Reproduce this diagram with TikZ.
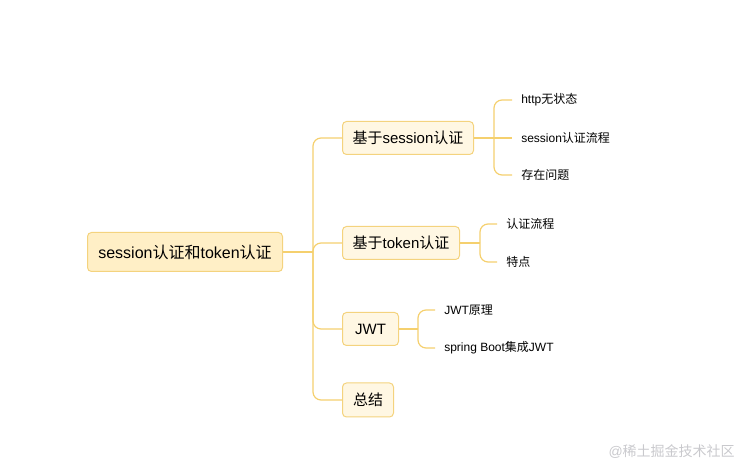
\documentclass[tikz,border=0pt]{standalone}
\usepackage{fontspec}
\setmainfont{Liberation Sans}
\newfontfamily\cjk{Noto Sans CJK SC}
\usepackage{xcolor}
\usetikzlibrary{positioning}

\definecolor{linegold}{HTML}{F5D06E}
\definecolor{rootfill}{HTML}{FFEFC6}
\definecolor{subfill}{HTML}{FFF7E3}
\definecolor{boxline}{HTML}{F4D37E}
\definecolor{markgray}{HTML}{C9C9CD}

\begin{document}
\begin{tikzpicture}[
    x=0.75pt, y=-0.75pt,
    rootbox/.style={rectangle, draw=boxline, fill=rootfill, line width=0.75pt, rounded corners=3pt, anchor=west, minimum width=146.25pt, minimum height=29.25pt, inner sep=0pt, font=\fontsize{12}{14}\selectfont},
    subbox/.style={rectangle, draw=boxline, fill=subfill, line width=0.75pt, rounded corners=3pt, anchor=west, minimum height=24.75pt, inner sep=0pt, font=\fontsize{11.25}{13}\selectfont},
    leaf/.style={anchor=west, inner xsep=6.75pt, inner ysep=0pt, font=\fontsize{9}{11}\selectfont},
    branch/.style={draw=linegold, line width=0.9pt, rounded corners=6pt}
]
    \useasboundingbox (0,0) rectangle (739,466);

    \node (root) [rootbox] at (87,252) {session{\cjk 认证和}token{\cjk 认证}};

    \node (s1) [subbox, minimum width=98.25pt] at (342,138) {{\cjk 基于}session{\cjk 认证}};
    \node (s2) [subbox, minimum width=87.75pt] at (342,243) {{\cjk 基于}token{\cjk 认证}};
    \node (s3) [subbox, minimum width=42pt] at (342,329) {JWT};
    \node (s4) [subbox, minimum width=38.25pt, minimum height=25.5pt] at (342,400) {{\cjk 总结}};

    \node (l11) [leaf] at (512,100) {http{\cjk 无状态}};
    \node (l12) [leaf] at (512,138) {session{\cjk 认证流程}};
    \node (l13) [leaf] at (512,175) {{\cjk 存在问题}};
    \node (l21) [leaf] at (497,224) {{\cjk 认证流程}};
    \node (l22) [leaf] at (497,262) {{\cjk 特点}};
    \node (l31) [leaf] at (435,310) {JWT{\cjk 原理}};
    \node (l32) [leaf] at (435,348) {spring Boot{\cjk 集成}JWT};

    \coordinate (trunk) at (313,252);
    \coordinate (hub1) at (494,138);
    \coordinate (hub2) at (480,243);
    \coordinate (hub3) at (418,329);

    % main branches
    \draw [branch] (root.east) -- (trunk);
    \draw [branch] (trunk) |- (s1.west);
    \draw [branch] (trunk) |- (s2.west);
    \draw [branch] (trunk) |- (s3.west);
    \draw [branch] (trunk) |- (s4.west);

    % leaves
    \draw [branch] (s1.east) -- (hub1);
    \draw [branch] (hub1) |- (l11.west);
    \draw [branch] (hub1) -- (l12.west);
    \draw [branch] (hub1) |- (l13.west);
    \draw [branch] (s2.east) -- (hub2);
    \draw [branch] (hub2) |- (l21.west);
    \draw [branch] (hub2) |- (l22.west);
    \draw [branch] (s3.east) -- (hub3);
    \draw [branch] (hub3) |- (l31.west);
    \draw [branch] (hub3) |- (l32.west);

    \node (mark) [anchor=east, inner sep=0pt, text=markgray, font=\fontsize{10.5}{12}\selectfont] at (735,452) {@{\cjk 稀土掘金技术社区}};
\end{tikzpicture}
\end{document}
